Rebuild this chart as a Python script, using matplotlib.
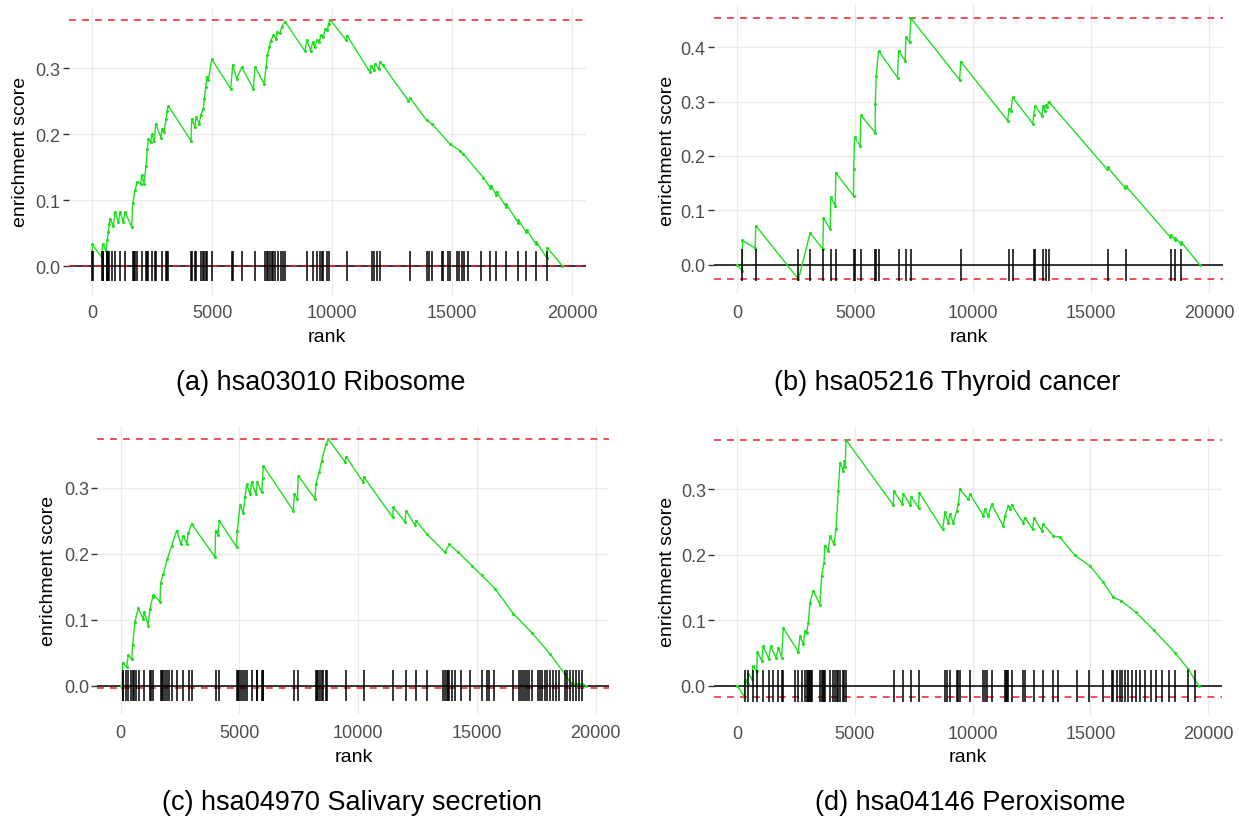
"""Four GSEA running-enrichment-score panels (fgsea plotEnrichment style), 2x2 grid."""
import matplotlib
matplotlib.use("Agg")
import matplotlib.pyplot as plt
from matplotlib.ticker import MultipleLocator, FormatStrFormatter

plt.rcParams["font.family"] = ["Liberation Sans", "DejaVu Sans"]

N_GENES = 19600
X_TICKS = [0, 5000, 10000, 15000, 20000]

CAPTIONS = [
    "(a) hsa03010 Ribosome",
    "(b) hsa05216 Thyroid cancer",
    "(c) hsa04970 Salivary secretion",
    "(d) hsa04146 Peroxisome",
]

# running enrichment score, (rank, ES) vertices
a_curve = [
    (0, 0.000), (13, 0.033), (403, 0.013), (444, 0.034), (583, 0.023), (639, 0.040),
    (681, 0.052), (722, 0.064), (750, 0.072), (889, 0.061), (958, 0.082), (1097, 0.067),
    (1167, 0.082), (1306, 0.067), (1375, 0.082), (1653, 0.059), (1694, 0.095), (1792, 0.115),
    (1889, 0.128), (2028, 0.125), (2069, 0.138), (2167, 0.125), (2250, 0.152), (2306, 0.178),
    (2347, 0.193), (2444, 0.188), (2486, 0.200), (2597, 0.190), (2653, 0.216), (2875, 0.195),
    (2917, 0.208), (3000, 0.203), (3083, 0.223), (3139, 0.236), (3181, 0.243), (4125, 0.190),
    (4153, 0.223), (4292, 0.211), (4333, 0.226), (4472, 0.216), (4528, 0.229), (4639, 0.239),
    (4681, 0.254), (4736, 0.271), (4778, 0.287), (4847, 0.282), (4986, 0.314), (5778, 0.269),
    (5861, 0.305), (6028, 0.284), (6236, 0.302), (6722, 0.269), (6792, 0.302), (7167, 0.277),
    (7250, 0.302), (7306, 0.320), (7389, 0.332), (7444, 0.342), (7556, 0.350), (7667, 0.345),
    (7722, 0.355), (7833, 0.353), (7903, 0.363), (8042, 0.371), (8875, 0.326), (8944, 0.343),
    (9111, 0.327), (9194, 0.340), (9292, 0.332), (9361, 0.343), (9472, 0.340), (9528, 0.350),
    (9639, 0.348), (9708, 0.359), (9806, 0.358), (9861, 0.368), (9917, 0.374), (10583, 0.343),
    (10639, 0.349), (11583, 0.294), (11625, 0.304), (11750, 0.297), (11806, 0.307),
    (11944, 0.299), (12000, 0.309), (12111, 0.305), (13181, 0.251), (13250, 0.255),
    (13944, 0.221), (14153, 0.216), (14917, 0.185), (15333, 0.175), (15472, 0.170),
    (16306, 0.134), (16600, 0.118), (16605, 0.122), (16850, 0.108), (16855, 0.112),
    (17250, 0.090), (17255, 0.094), (17750, 0.066), (17755, 0.070), (18100, 0.051),
    (18105, 0.055), (18500, 0.033), (18505, 0.037), (18950, 0.012), (18960, 0.028),
    (19600, 0.000),
]
b_curve = [
    (0, 0.000), (220, -0.011), (226, 0.045), (763, 0.031), (791, 0.072), (2599, -0.026),
    (3093, 0.059), (3630, 0.029), (3658, 0.086), (3941, 0.066), (3969, 0.124), (4153, 0.109),
    (4181, 0.169), (4929, 0.127), (4935, 0.176), (4972, 0.234), (5212, 0.219), (5240, 0.275),
    (5847, 0.243), (5852, 0.295), (5890, 0.347), (5989, 0.393), (6794, 0.344), (6836, 0.393),
    (7119, 0.375), (7147, 0.418), (7302, 0.409), (7359, 0.453), (9421, 0.340), (9477, 0.373),
    (11455, 0.265), (11525, 0.286), (11600, 0.283), (11667, 0.308), (12528, 0.259),
    (12556, 0.275), (12627, 0.292), (12910, 0.274), (12952, 0.292), (13023, 0.283),
    (13093, 0.294), (13140, 0.290), (13192, 0.300), (15664, 0.176), (15692, 0.179),
    (16450, 0.141), (16460, 0.145), (18350, 0.051), (18360, 0.055), (18550, 0.046),
    (18560, 0.050), (18800, 0.038), (18810, 0.042), (19600, 0.000),
]
c_curve = [
    (0, 0.000), (60, -0.0035), (83, 0.035), (251, 0.028), (321, 0.046), (462, 0.040),
    (504, 0.061), (602, 0.097), (743, 0.117), (953, 0.101), (995, 0.112), (1164, 0.091),
    (1234, 0.116), (1347, 0.134), (1375, 0.138), (1655, 0.127), (1684, 0.156), (1796, 0.169),
    (1964, 0.192), (2147, 0.212), (2358, 0.235), (2540, 0.215), (2638, 0.227), (2779, 0.215),
    (2849, 0.231), (2989, 0.245), (3972, 0.195), (4000, 0.235), (4100, 0.228), (4155, 0.250),
    (4885, 0.210), (4913, 0.235), (5025, 0.273), (5166, 0.262), (5236, 0.285), (5306, 0.305),
    (5447, 0.290), (5517, 0.308), (5699, 0.290), (5755, 0.308), (5938, 0.293), (5980, 0.315),
    (6008, 0.333), (7272, 0.265), (7314, 0.290), (7440, 0.283), (7482, 0.318), (8185, 0.283),
    (8227, 0.306), (8367, 0.323), (8466, 0.341), (8649, 0.366), (8747, 0.373), (9448, 0.339),
    (9490, 0.347), (10219, 0.308), (10247, 0.316), (11456, 0.255), (11485, 0.270),
    (11976, 0.248), (12018, 0.265), (12397, 0.243), (12439, 0.250), (12888, 0.230),
    (13661, 0.202), (13843, 0.214), (14222, 0.202), (14784, 0.182), (15205, 0.167),
    (15767, 0.147), (16540, 0.109), (17325, 0.080), (18083, 0.048), (18700, 0.018),
    (18950, 0.004), (19200, 0.002), (19431, 0.003), (19600, 0.000),
]
d_curve = [
    (0, 0.000), (299, -0.017), (327, 0.008), (450, 0.002), (468, 0.018), (640, 0.010),
    (653, 0.030), (830, 0.022), (851, 0.052), (1035, 0.038), (1105, 0.060), (1340, 0.041),
    (1417, 0.060), (1650, 0.043), (1743, 0.058), (1884, 0.043), (1955, 0.088), (2593, 0.052),
    (2663, 0.076), (2805, 0.063), (2876, 0.084), (2946, 0.080), (3017, 0.096), (3088, 0.127),
    (3230, 0.145), (3513, 0.124), (3584, 0.168), (3683, 0.188), (3726, 0.214), (3867, 0.206),
    (3938, 0.229), (4108, 0.216), (4193, 0.239), (4292, 0.298), (4363, 0.341), (4505, 0.328),
    (4547, 0.343), (4590, 0.335), (4618, 0.376), (6628, 0.276), (6656, 0.297), (7010, 0.278),
    (7053, 0.293), (7350, 0.276), (7400, 0.288), (7700, 0.272), (7733, 0.295), (8724, 0.239),
    (8823, 0.265), (8965, 0.249), (9036, 0.262), (9177, 0.249), (9319, 0.267), (9390, 0.277),
    (9461, 0.300), (9815, 0.285), (9886, 0.293), (10452, 0.260), (10523, 0.270),
    (10665, 0.259), (10806, 0.277), (11302, 0.244), (11372, 0.260), (11514, 0.275),
    (11600, 0.270), (11656, 0.276), (12151, 0.249), (12222, 0.257), (12548, 0.239),
    (12604, 0.257), (12930, 0.237), (13001, 0.247), (13426, 0.229), (13709, 0.227),
    (14346, 0.199), (14983, 0.183), (15550, 0.158), (15975, 0.135), (16300, 0.130),
    (16940, 0.112), (17690, 0.085), (18610, 0.050), (19163, 0.025), (19600, 0.000),
]

# gene-set member ranks (the black tick marks)
a_hits = [
    13, 56, 403, 444, 472, 611, 639, 681, 722, 819, 958, 1167, 1375, 1694, 1750, 1792, 1889,
    2069, 2250, 2306, 2347, 2486, 2625, 2653, 2917, 3083, 3139, 3181, 4125, 4153, 4292, 4333,
    4528, 4639, 4681, 4736, 4778, 4986, 5819, 5861, 6236, 6792, 7208, 7278, 7347, 7417, 7486,
    7556, 7625, 7764, 7861, 7944, 8042, 8944, 9222, 9361, 9500, 9569, 9639, 9778, 9889, 10639,
    11653, 11750, 11861, 12000, 13250, 13944, 14056, 14153, 14569, 14639, 14847, 14917, 15194,
    15306, 15403, 15500, 15681, 16194, 16600, 16850, 17250, 17750, 18100, 18500, 18960,
]
b_hits = [
    226, 791, 2599, 3093, 3658, 3969, 4181, 4929, 4972, 5240, 5847, 5890, 5989, 6836, 7147,
    7359, 9477, 11525, 11667, 12556, 12627, 12952, 13093, 13192, 15692, 16460, 18360, 18560,
    18810,
]
c_hits = [
    83, 111, 222, 321, 420, 504, 575, 645, 786, 995, 1235, 1277, 1348, 1684, 1727, 1797, 1867,
    1966, 2050, 2148, 2358, 2638, 2878, 2990, 4000, 4155, 4913, 4956, 4998, 5068, 5166, 5236,
    5306, 5517, 5727, 5755, 5938, 5980, 6008, 7314, 7482, 8227, 8255, 8325, 8396, 8466, 8536,
    8649, 8705, 9490, 10247, 11485, 12018, 12439, 12888, 13590, 13661, 13731, 13801, 13843,
    13942, 14082, 14321, 14714, 15205, 15416, 15528, 15725, 16540, 16769, 16853, 16938, 17022,
    17123, 17207, 17325, 17578, 17662, 17763, 17864, 17965, 18083, 18201, 18336, 18454, 18707,
    18808, 18926, 19044, 19179, 19297, 19431,
]
d_hits = [
    327, 468, 653, 851, 1105, 1360, 1530, 1743, 1884, 1926, 2451, 2593, 2734, 2876, 2946, 3017,
    3060, 3088, 3130, 3159, 3513, 3584, 3655, 3683, 3726, 3938, 4080, 4151, 4221, 4292, 4363,
    4505, 4547, 4618, 6656, 7053, 7400, 7733, 8823, 8923, 9036, 9319, 9390, 9461, 9886, 10452,
    10523, 10594, 10806, 11372, 11415, 11471, 11514, 11656, 12151, 12222, 12604, 13001, 13426,
    13638, 14417, 14955, 15550, 15904, 15981, 16111, 16240, 16351, 16481, 16610, 16758, 16943,
    17128, 17313, 17590, 17775, 18053, 18330, 18608, 19163, 19450,
]

W, H = 1239, 820
fig = plt.figure(figsize=(W / 100, H / 100), dpi=100)

# panel boxes in pixels (left, top, right, bottom) plus text anchors in pixels
PANELS = [
    dict(curve=a_curve, hits=a_hits, box=(68.5, 7.5, 586, 295.5), ylab_x=21, rank_y=338, cap=(321, 383)),
    dict(curve=b_curve, hits=b_hits, box=(714, 6, 1223, 295.4), ylab_x=667, rank_y=338, cap=(947, 383)),
    dict(curve=c_curve, hits=c_hits, box=(97.4, 427.3, 609.3, 715.3), ylab_x=49, rank_y=758, cap=(352, 803)),
    dict(curve=d_curve, hits=d_hits, box=(714.2, 427.6, 1221.7, 715.8), ylab_x=667, rank_y=758, cap=(970, 803)),
]

GREEN = "#1EE01E"

for p, caption in zip(PANELS, CAPTIONS):
    left, top, right, bottom = p["box"]
    ax = fig.add_axes([left / W, 1 - bottom / H, (right - left) / W, (bottom - top) / H])

    ranks = [v[0] for v in p["curve"]]
    es = [v[1] for v in p["curve"]]
    es_max, es_min = max(es), min(es)
    diff = (es_max - es_min) / 8
    lo, hi = min(es_min, -diff / 2), max(es_max, diff / 2)
    pad = 0.05 * (hi - lo)
    ax.set_ylim(lo - pad, hi + pad)
    ax.set_xlim(-0.05 * N_GENES, 1.05 * N_GENES)

    ax.axhline(0, color="black", lw=1.1, zorder=2)
    ax.axhline(es_max, color="#E8202A", lw=1.1, ls=(0, (4.5, 4)), zorder=3)
    ax.axhline(es_min, color="#E8202A", lw=1.1, ls=(0, (4.5, 4)), zorder=3)
    ax.plot(ranks, es, color=GREEN, lw=1.0, zorder=4)
    ax.scatter(ranks, es, s=5, color=GREEN, lw=0, zorder=4)
    ax.vlines(p["hits"], -diff / 2, diff / 2, color="black", lw=1.1, zorder=5)

    ax.set_xticks(X_TICKS)
    ax.yaxis.set_major_locator(MultipleLocator(0.1))
    ax.yaxis.set_major_formatter(FormatStrFormatter("%.1f"))
    ax.grid(True, color="#EBEBEB", lw=1.0, zorder=0)
    ax.set_axisbelow(True)
    for s in ax.spines.values():
        s.set_visible(False)
    ax.tick_params(axis="y", length=4, width=1.0, color="#333333", labelcolor="#4D4D4D",
                   labelsize=13, pad=2)
    ax.tick_params(axis="x", length=0, labelcolor="#4D4D4D", labelsize=13, pad=7)

    h = bottom - top
    ax.set_xlabel("rank", fontsize=14, color="black")
    ax.xaxis.set_label_coords(0.5, (bottom - p["rank_y"]) / h, transform=ax.transAxes)
    ax.set_ylabel("enrichment score", fontsize=14, color="black")
    ax.yaxis.set_label_coords((p["ylab_x"] - left) / (right - left), 0.5, transform=ax.transAxes)
    ax.xaxis.label.set_va("center")
    ax.yaxis.label.set_va("center")

    fig.text(p["cap"][0] / W, 1 - p["cap"][1] / H, caption, fontsize=19.5,
             ha="center", va="center")

fig.savefig("out.png", dpi=100)
